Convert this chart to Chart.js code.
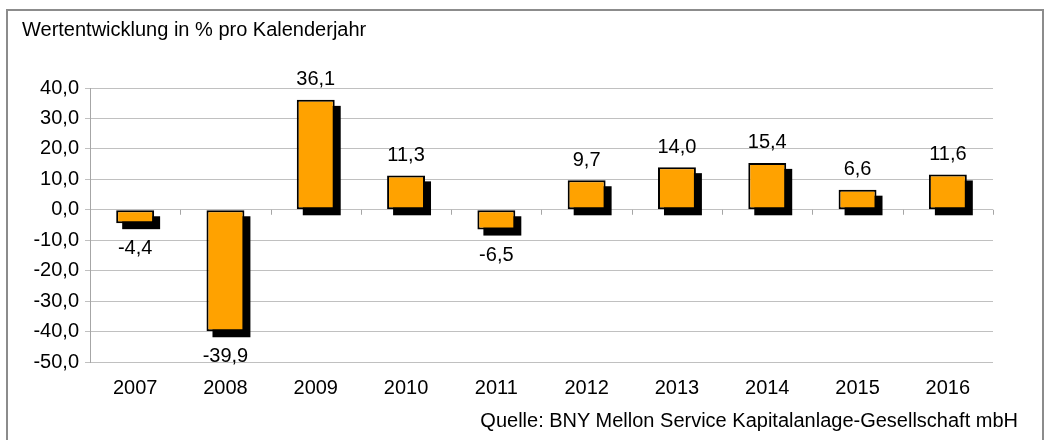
<!DOCTYPE html>
<html><head><meta charset="utf-8">
<script src="https://cdn.jsdelivr.net/npm/chart.js@4.4.1/dist/chart.umd.min.js"></script>
<style>
html,body{margin:0;padding:0;background:#fff;}
body{width:1045px;height:440px;position:relative;overflow:hidden;font-family:"Liberation Sans",Arial,sans-serif;}
#frame{position:absolute;left:6px;top:9px;width:1038px;height:445px;border:2px solid #8c8c8c;box-sizing:border-box;}
#c{position:absolute;left:0;top:0;}
.txt{position:absolute;font-size:20px;color:#000;white-space:nowrap;line-height:20px;}
#title{left:22px;top:19px;}
#source{right:27px;top:410px;}
</style>
</head><body>
<div id="frame"></div>
<canvas id="c" width="1045" height="440"></canvas>
<div class="txt" id="title">Wertentwicklung in % pro Kalenderjahr</div>
<div class="txt" id="source">Quelle: BNY Mellon Service Kapitalanlage-Gesellschaft mbH</div>
<script>
const years = ['2007','2008','2009','2010','2011','2012','2013','2014','2015','2016'];
const performance = [-4.4, -39.9, 36.1, 11.3, -6.5, 9.7, 14.0, 15.4, 6.6, 11.6];
const yMin = -50, yMax = 40, yStep = 10;

const fmt = v => v.toFixed(1).replace('.', ',');
const FONT = '"Liberation Sans", Arial, sans-serif';

const shadowPlugin = {
  id: 'barShadow',
  beforeDatasetsDraw(chart) {
    const ctx = chart.ctx;
    const xs = chart.scales.x, ys = chart.scales.y;
    const y0 = ys.getPixelForValue(0);
    const half = (xs.getPixelForValue(1) - xs.getPixelForValue(0)) / 2;
    ctx.save();
    ctx.strokeStyle = '#a6a6a6';
    ctx.lineWidth = 1;
    for (let i = 0; i <= years.length; i++) {
      const x = Math.round(xs.getPixelForValue(0) - half + i * 2 * half) + 0.5;
      ctx.beginPath(); ctx.moveTo(x, y0); ctx.lineTo(x, y0 + 5); ctx.stroke();
    }
    ctx.fillStyle = '#000';
    chart.getDatasetMeta(0).data.forEach(bar => {
      const p = bar.getProps(['x', 'y', 'base', 'width'], true);
      const top = Math.min(p.y, p.base), h = Math.abs(p.y - p.base);
      ctx.fillRect(p.x - p.width / 2 + 6, top + 6, p.width, h);
    });
    ctx.restore();
  }
};

const labelPlugin = {
  id: 'valueLabels',
  afterDatasetsDraw(chart) {
    const ctx = chart.ctx;
    ctx.save();
    ctx.font = '20px ' + FONT;
    ctx.fillStyle = '#000';
    ctx.textAlign = 'center';
    ctx.textBaseline = 'middle';
    chart.getDatasetMeta(0).data.forEach((bar, i) => {
      const v = performance[i];
      const p = bar.getProps(['x', 'y'], true);
      ctx.fillText(fmt(v), p.x, v >= 0 ? p.y - 20 : p.y + 25.5);
    });
    ctx.restore();
  }
};

new Chart(document.getElementById('c'), {
  type: 'bar',
  data: {
    labels: years,
    datasets: [{
      data: performance,
      backgroundColor: '#ffa200',
      borderColor: '#000',
      borderWidth: 2,
      borderSkipped: false,
      barPercentage: 0.42,
      categoryPercentage: 1.0
    }]
  },
  options: {
    responsive: false,
    animation: false,
    devicePixelRatio: 1,
    layout: { padding: { left: 0, right: 52, top: 88, bottom: 38 } },
    plugins: { legend: { display: false }, tooltip: { enabled: false }, title: { display: false } },
    scales: {
      x: {
        grid: { display: false },
        border: { display: false },
        ticks: { color: '#000', font: { family: FONT, size: 20 }, padding: 6 },
        afterFit: s => { s.height = 40; }
      },
      y: {
        min: yMin, max: yMax,
        ticks: { stepSize: yStep, color: '#000', font: { family: FONT, size: 20 }, padding: 6, callback: v => fmt(v) },
        grid: { color: '#c0c0c0', lineWidth: 1, tickLength: 5, drawTicks: true },
        border: { display: true, color: '#a6a6a6', width: 1 },
        afterFit: s => { s.width = 90; }
      }
    }
  },
  plugins: [shadowPlugin, labelPlugin]
});
</script>
</body></html>
